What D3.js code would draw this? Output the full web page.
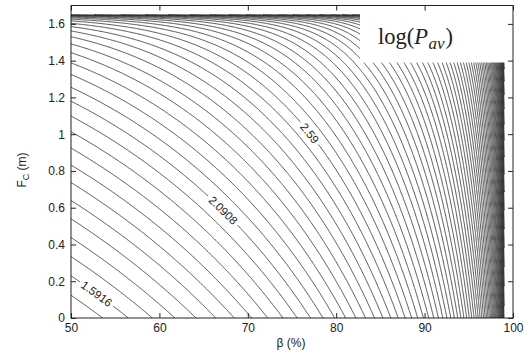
<!DOCTYPE html>
<html>
<head>
<meta charset="utf-8">
<script src="https://cdn.jsdelivr.net/npm/d3@7"></script>
<style>
  body { margin: 0; background: #fff; }
  svg text { font-family: "Liberation Sans", Arial, Helvetica, sans-serif; fill: #222; }
</style>
</head>
<body>
<svg id="chart" width="528" height="354"></svg>
<script>
// ---- axis ticks ----
const betaTicks = [50, 60, 70, 80, 90, 100];
const fcTicks = [0, 0.2, 0.4, 0.6, 0.8, 1, 1.2, 1.4, 1.6];
const betaDomain = [50, 100];
const fcDomain = [0, 1.7];

// ---- sampling grid of the surface: beta (%) and F_C (m) ----
const betaRange = [50, 99];
const fcRange = [0, 1.65];
const gridSteps = [0.1, 0.005];

// ---- log10(P_av) model coefficients ----
const modelBase = [0.956];
const betaCoefs = [0.762, 0.005];
const fcCoefs = [0.395, 0.11, 0.003];
const fcLimit = [1.66];

// ---- contour levels: first level and spacing ----
const levelStart = [1.4918];
const levelStep = [0.04992];

// ---- labelled contours and where along beta they sit ----
const labelLevels = [1.5916, 2.0908, 2.59];
const labelText = ["1.5916", "2.0908", "2.59"];
const labelBetas = [52.9, 67.2, 77.0];

function logPav(betaPct, fc) {
  const b = betaPct / 100;
  const fm = fcLimit[0];
  return modelBase[0]
    + betaCoefs[0] * Math.log(1 / (1 - b))
    + betaCoefs[1] * (1 / (1 - b) - 2)
    + fcCoefs[0] * fc
    + fcCoefs[1] * Math.log(1 / (1 - fc / fm))
    + fcCoefs[2] * (1 / (fm - fc) - 1 / fm);
}

const svg = d3.select("#chart");
const plot = { left: 71, right: 513, top: 5.5, bottom: 318 };

const x = d3.scaleLinear().domain(betaDomain).range([plot.left, plot.right]);
const y = d3.scaleLinear().domain(fcDomain).range([plot.bottom, plot.top]);

// ---- evaluate the surface on the grid ----
const nx = Math.round((betaRange[1] - betaRange[0]) / gridSteps[0]) + 1;
const ny = Math.round((fcRange[1] - fcRange[0]) / gridSteps[1]) + 1;
const values = new Float64Array(nx * ny);
let vmax = -Infinity;
for (let j = 0; j < ny; j++) {
  const fc = fcRange[0] + j * gridSteps[1];
  for (let i = 0; i < nx; i++) {
    const be = betaRange[0] + i * gridSteps[0];
    const v = logPav(be, fc);
    values[j * nx + i] = v;
    if (v > vmax) vmax = v;
  }
}
const levels = [];
for (let k = 1; levelStart[0] + k * levelStep[0] < vmax; k++) {
  levels.push(levelStart[0] + k * levelStep[0]);
}

const contours = d3.contours().size([nx, ny]).smooth(true).thresholds(levels)(values);

// grid coordinate -> data
const gx = c => betaRange[0] + (c - 0.5) * gridSteps[0];
const gy = c => fcRange[0] + (c - 0.5) * gridSteps[1];

function onBorder(p, q) {
  return (p[0] === 0 && q[0] === 0) || (p[0] === nx && q[0] === nx) ||
         (p[1] === 0 && q[1] === 0) || (p[1] === ny && q[1] === ny);
}

// turn filled rings into open isolines by dropping edges that run along the grid border
function ringToLines(ring) {
  const lines = [];
  let cur = [ring[0]];
  for (let i = 1; i < ring.length; i++) {
    const p = ring[i - 1], q = ring[i];
    if (onBorder(p, q)) {
      if (cur.length > 1) lines.push(cur);
      cur = [q];
    } else {
      cur.push(q);
    }
  }
  if (cur.length > 1) {
    if (lines.length && lines[0][0] === ring[0] && cur[cur.length - 1] === ring[ring.length - 1]) {
      lines[0] = cur.concat(lines[0].slice(1));
    } else {
      lines.push(cur);
    }
  }
  return lines;
}

const line = d3.line()
  .x(p => x(gx(p[0])))
  .y(p => y(gy(p[1])));

svg.append("defs").append("clipPath").attr("id", "plotClip")
  .append("rect")
  .attr("x", plot.left).attr("y", plot.top)
  .attr("width", plot.right - plot.left).attr("height", plot.bottom - plot.top);

const gLines = svg.append("g").attr("clip-path", "url(#plotClip)");
contours.forEach(c => {
  const paths = [];
  c.coordinates.forEach(poly => poly.forEach(ring => {
    ringToLines(ring).forEach(l => paths.push(line(l)));
  }));
  if (paths.length) {
    gLines.append("path")
      .attr("d", paths.join(""))
      .attr("fill", "none")
      .attr("stroke", "#262626")
      .attr("stroke-width", 0.8);
  }
});

// ---- contour labels ----
function solveFc(betaPct, level) {
  let lo = fcRange[0], hi = fcRange[1];
  if (logPav(betaPct, lo) > level || logPav(betaPct, hi) < level) return null;
  for (let it = 0; it < 60; it++) {
    const mid = (lo + hi) / 2;
    if (logPav(betaPct, mid) < level) lo = mid; else hi = mid;
  }
  return (lo + hi) / 2;
}

const gLabels = svg.append("g");
labelLevels.forEach((lv, i) => {
  const b0 = labelBetas[i];
  const f0 = solveFc(b0, lv);
  const fa = solveFc(b0 - 0.4, lv), fb = solveFc(b0 + 0.4, lv);
  const ang = Math.atan2(y(fb) - y(fa), x(b0 + 0.4) - x(b0 - 0.4)) * 180 / Math.PI;
  const g = gLabels.append("g")
    .attr("transform", `translate(${x(b0)},${y(f0)}) rotate(${ang})`);
  const t = g.append("text")
    .attr("text-anchor", "middle")
    .attr("dy", "0.35em")
    .attr("font-size", 11.5)
    .text(labelText[i]);
  const w = t.node().getComputedTextLength();
  g.insert("rect", "text")
    .attr("x", -w / 2 - 3).attr("y", -4.5)
    .attr("width", w + 6).attr("height", 9)
    .attr("fill", "#fff");
});

// ---- quantity name box ----
svg.append("rect")
  .attr("x", 360).attr("y", plot.top)
  .attr("width", plot.right - 360).attr("height", 62.5 - plot.top)
  .attr("fill", "#fff");
const title = svg.append("text")
  .attr("x", 378).attr("y", 44)
  .attr("font-size", 22.5)
  .style("font-family", "'Liberation Serif', 'Times New Roman', serif");
title.append("tspan").text("log(");
title.append("tspan").attr("font-style", "italic").text("P");
title.append("tspan").attr("font-style", "italic").attr("font-size", 17).attr("dx", 0.5).attr("dy", 5).text("av");
title.append("tspan").attr("dx", 1).attr("dy", -5).text(")");

// ---- axes ----
const axisColor = "#222";
const styleAxis = g => {
  g.selectAll(".domain").remove();
  g.selectAll("line").attr("stroke", axisColor);
  g.selectAll("text").attr("font-size", 12).attr("fill", axisColor);
};

svg.append("g")
  .attr("transform", `translate(0,${plot.bottom})`)
  .call(d3.axisBottom(x).tickValues(betaTicks).tickSizeInner(-5).tickSizeOuter(0).tickPadding(5).tickFormat(d3.format("d")))
  .call(styleAxis);
svg.append("g")
  .attr("transform", `translate(0,${plot.top})`)
  .call(d3.axisTop(x).tickValues(betaTicks).tickSizeInner(-5).tickSizeOuter(0).tickFormat(""))
  .call(styleAxis);
svg.append("g")
  .attr("transform", `translate(${plot.left},0)`)
  .call(d3.axisLeft(y).tickValues(fcTicks).tickSizeInner(-5).tickSizeOuter(0).tickPadding(6).tickFormat(d => String(d)))
  .call(styleAxis);
svg.append("g")
  .attr("transform", `translate(${plot.right},0)`)
  .call(d3.axisRight(y).tickValues(fcTicks).tickSizeInner(-5).tickSizeOuter(0).tickFormat(""))
  .call(styleAxis);

svg.append("rect")
  .attr("x", plot.left).attr("y", plot.top)
  .attr("width", plot.right - plot.left).attr("height", plot.bottom - plot.top)
  .attr("fill", "none").attr("stroke", axisColor).attr("stroke-width", 1);

// ---- axis titles ----
svg.append("text")
  .attr("x", 291).attr("y", 347)
  .attr("text-anchor", "middle").attr("font-size", 12)
  .text("β (%)");
const yt = svg.append("text")
  .attr("transform", `translate(26,170) rotate(-90)`)
  .attr("text-anchor", "middle").attr("font-size", 12);
yt.append("tspan").text("F");
yt.append("tspan").attr("font-size", 9).attr("dy", 3).text("C");
yt.append("tspan").attr("dy", -3).text(" (m)");
</script>
</body>
</html>
